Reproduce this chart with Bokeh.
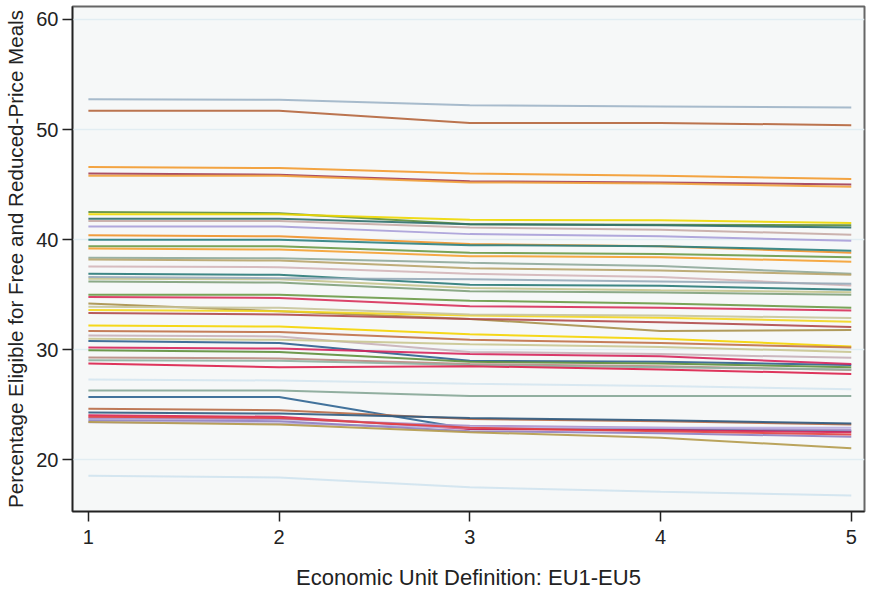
from bokeh.plotting import figure
from bokeh.models import Range1d, FixedTicker, ColumnDataSource
from bokeh.embed import file_html
from bokeh.resources import INLINE

eu = [1, 2, 3, 4, 5]

colors = [
    "#9fb4c7", "#b5653c", "#f39a2d", "#a23c55", "#f2a23c",
    "#5e8e3a", "#eed700", "#2f6f6a", "#c7aaa5", "#a99ed8",
    "#f0922a", "#2a7f7f", "#6b9a47", "#f5a030", "#8fa89a",
    "#b8a46a", "#d4b5b8", "#2a7a78", "#c5c48e", "#97aab8",
    "#7fa07a", "#6b9a47", "#d8305a", "#a8904a", "#f3d61d",
    "#b04a4a", "#c8c49a", "#f5d400", "#c07048", "#c8b0b8",
    "#c9c590", "#2e5f8e", "#d6245a", "#5e8e3a", "#b98a80",
    "#8fb0a0", "#dc1f4a", "#d5e6ef", "#86a696", "#2f6491",
    "#b86a45", "#2e5a80", "#d6245a", "#a98ec8", "#b9aee0",
    "#8f7fc0", "#e24040", "#b49a4a", "#d0e3ee",
]

values = [
    [52.75, 52.7, 52.2, 52.1, 52.0],
    [51.7, 51.7, 50.6, 50.6, 50.4],
    [46.6, 46.5, 46.0, 45.8, 45.5],
    [46.0, 45.9, 45.3, 45.2, 45.0],
    [45.8, 45.8, 45.2, 45.1, 44.8],
    [42.5, 42.4, 41.4, 41.35, 41.3],
    [42.3, 42.3, 41.8, 41.75, 41.5],
    [41.9, 41.9, 41.4, 41.3, 41.1],
    [41.7, 41.7, 41.1, 40.9, 40.45],
    [41.2, 41.2, 40.5, 40.3, 39.9],
    [40.4, 40.3, 39.6, 39.4, 38.8],
    [40.0, 40.0, 39.5, 39.4, 39.0],
    [39.4, 39.4, 38.8, 38.7, 38.4],
    [39.2, 39.1, 38.5, 38.4, 38.0],
    [38.35, 38.3, 37.9, 37.6, 36.9],
    [38.2, 38.1, 37.4, 37.2, 36.8],
    [37.56, 37.5, 36.9, 36.6, 35.84],
    [36.9, 36.8, 35.9, 35.8, 35.45],
    [36.44, 36.4, 35.6, 35.4, 35.23],
    [36.6, 36.5, 36.4, 36.2, 36.0],
    [36.2, 36.1, 35.3, 35.2, 35.0],
    [35.0, 35.0, 34.45, 34.2, 33.8],
    [34.78, 34.7, 33.95, 33.8, 33.57],
    [34.2, 33.5, 32.8, 31.7, 31.8],
    [33.6, 33.5, 33.1, 32.9, 32.55],
    [33.33, 33.2, 32.8, 32.5, 32.07],
    [33.9, 33.8, 33.2, 33.1, 32.88],
    [32.2, 32.1, 31.4, 31.0, 30.3],
    [31.7, 31.6, 30.9, 30.6, 30.2],
    [31.3, 31.2, 29.8, 29.6, 29.26],
    [31.0, 30.9, 30.5, 30.25, 29.8],
    [30.8, 30.6, 29.0, 28.9, 28.6],
    [30.2, 30.1, 29.6, 29.4, 28.7],
    [29.95, 29.8, 28.9, 28.75, 28.4],
    [29.3, 29.2, 28.7, 28.5, 28.15],
    [29.05, 29.0, 28.6, 28.4, 28.2],
    [28.75, 28.4, 28.5, 28.2, 27.8],
    [27.3, 27.2, 26.9, 26.7, 26.4],
    [26.3, 26.3, 25.8, 25.8, 25.8],
    [25.7, 25.7, 22.8, 22.8, 22.6],
    [24.64, 24.5, 23.7, 23.5, 23.2],
    [24.3, 24.2, 23.8, 23.6, 23.3],
    [24.05, 23.9, 22.8, 22.7, 22.5],
    [23.8, 23.7, 23.1, 22.9, 22.7],
    [23.4, 23.3, 22.9, 22.9, 22.9],
    [23.6, 23.5, 22.6, 22.4, 22.1],
    [23.9, 23.8, 22.9, 22.6, 22.3],
    [23.44, 23.2, 22.5, 22.0, 21.05],
    [18.55, 18.4, 17.5, 17.1, 16.75],
]

y_ticks = [20, 30, 40, 50, 60]
x_ticks = [1, 2, 3, 4, 5]

p = figure(width=866, height=592, output_backend="svg", toolbar_location=None,
           x_range=Range1d(0.9167, 5.0694), y_range=Range1d(15.3, 61.18),
           min_border_left=72, min_border_right=2, min_border_top=6, min_border_bottom=76)

source = ColumnDataSource(dict(xs=[eu] * len(values), ys=values, color=colors))
p.multi_line(xs="xs", ys="ys", line_color="color", line_width=2, line_alpha=0.9, source=source)

p.background_fill_color = "#f6f8f8"
p.border_fill_color = "white"
p.outline_line_color = "#666666"
p.outline_line_width = 2

p.xgrid.visible = False
p.ygrid.grid_line_color = "#e2edf2"
p.ygrid.grid_line_width = 1.5

p.xaxis.ticker = FixedTicker(ticks=x_ticks)
p.yaxis.ticker = FixedTicker(ticks=y_ticks)
p.xaxis.minor_tick_line_color = None
p.yaxis.minor_tick_line_color = None

for ax in (p.xaxis[0], p.yaxis[0]):
    ax.axis_line_color = "#222222"
    ax.axis_line_width = 1.5
    ax.major_tick_line_color = "#222222"
    ax.major_tick_line_width = 1.5
    ax.major_tick_in = 0
    ax.major_tick_out = 10
    ax.major_label_text_font = "Liberation Sans"
    ax.major_label_text_font_size = "20px"
    ax.major_label_text_color = "#222222"
    ax.axis_label_text_font = "Liberation Sans"
    ax.axis_label_text_font_style = "normal"
    ax.axis_label_text_color = "#222222"

p.xaxis.axis_label_text_font_size = "22px"
p.yaxis.axis_label_text_font_size = "20.6px"
p.xaxis.axis_label = "Economic Unit Definition: EU1-EU5"
p.yaxis.axis_label = "Percentage Eligible for Free and Reduced-Price Meals"
p.xaxis.major_label_standoff = 8
p.yaxis.major_label_standoff = 4
p.xaxis.axis_label_standoff = 18
p.yaxis.axis_label_standoff = 6

open("out.html", "w").write(file_html(p, INLINE))
